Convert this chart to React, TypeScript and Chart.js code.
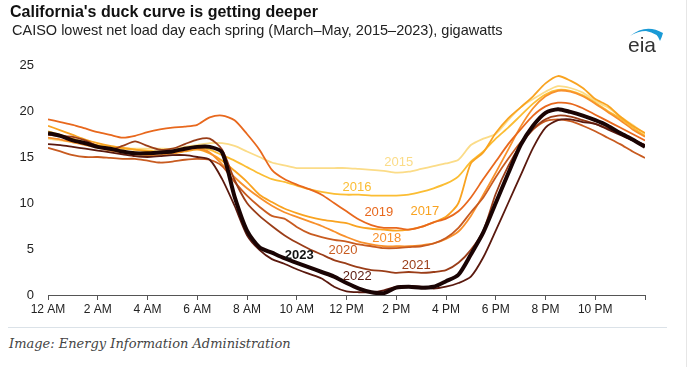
import React, { useEffect, useRef } from 'react';
import { Chart, registerables } from 'chart.js';
Chart.register(...registerables);

const X_TICK_LABELS = ['12 AM', '2 AM', '4 AM', '6 AM', '8 AM', '10 AM', '12 PM', '2 PM', '4 PM', '6 PM', '8 PM', '10 PM'];
const HOURS = [0, 0.5, 1, 1.5, 2, 2.5, 3, 3.5, 4, 4.5, 5, 5.5, 6, 6.5, 7, 7.5, 8, 8.5, 9, 9.5, 10, 10.5, 11, 11.5, 12, 12.5, 13, 13.5, 14, 14.5, 15, 15.5, 16, 16.5, 17, 17.5, 18, 18.5, 19, 19.5, 20, 20.5, 21, 21.5, 22, 22.5, 23, 23.5, 24];

const YEARS = ['2015', '2016', '2017', '2018', '2019', '2020', '2021', '2022', '2023'];
const COLORS = ['#fbdc88', '#fbbd33', '#f9a320', '#f8902c', '#e8681d', '#c85b20', '#9a3d18', '#5a190e', '#1a0404'];

const Y2015 = [17.0, 16.8, 16.6, 16.4, 16.2, 16.1, 16.0, 15.9, 15.9, 15.9, 15.9, 16.1, 16.3, 16.5, 16.5, 16.2, 15.6, 15.0, 14.4, 14.1, 13.8, 13.8, 13.8, 13.8, 13.8, 13.7, 13.6, 13.5, 13.3, 13.4, 13.7, 14.0, 14.3, 14.7, 16.3, 17.0, 17.5, 19.0, 20.4, 21.3, 22.1, 22.7, 22.5, 22.0, 21.1, 20.4, 19.4, 18.5, 17.5];
const Y2016 = [17.8, 17.4, 17.0, 16.6, 16.3, 16.1, 15.9, 15.8, 15.7, 15.6, 15.7, 15.9, 16.0, 15.8, 15.2, 14.6, 13.9, 13.2, 12.6, 12.3, 11.9, 11.5, 11.2, 11.0, 10.9, 10.9, 10.8, 10.8, 10.8, 10.9, 11.2, 11.6, 12.1, 12.9, 14.5, 15.6, 17.0, 18.2, 19.5, 20.8, 21.8, 22.3, 22.2, 21.7, 20.9, 20.0, 19.2, 18.2, 17.3];
const Y2017 = [18.4, 17.9, 17.4, 16.9, 16.5, 16.2, 16.0, 15.8, 15.6, 15.5, 15.4, 15.6, 15.8, 15.4, 14.6, 13.5, 12.3, 10.9, 10.1, 9.4, 8.9, 8.5, 8.2, 8.0, 7.8, 7.4, 7.2, 7.1, 7.0, 7.1, 7.4, 7.9, 8.5, 10.0, 14.3, 15.5, 17.6, 19.2, 20.4, 21.6, 23.0, 23.8, 23.3, 22.5, 21.3, 20.6, 19.4, 18.4, 17.6];
const Y2018 = [17.1, 16.9, 16.6, 16.3, 16.0, 15.7, 15.5, 15.3, 15.2, 15.2, 15.4, 15.7, 15.9, 15.5, 14.2, 12.8, 11.6, 10.6, 9.7, 9.0, 8.5, 8.0, 7.5, 6.9, 6.3, 5.8, 5.5, 5.3, 5.3, 5.3, 5.4, 5.6, 6.1, 6.9, 8.6, 10.9, 13.3, 15.8, 18.3, 20.3, 21.6, 22.2, 22.1, 21.6, 20.8, 19.9, 19.0, 18.0, 17.2];
const Y2019 = [19.1, 18.8, 18.5, 18.1, 17.7, 17.4, 17.1, 17.3, 17.7, 18.0, 18.2, 18.3, 18.5, 19.3, 19.5, 19.0, 17.5, 15.8, 13.6, 12.6, 12.0, 11.5, 10.9, 10.0, 9.1, 8.2, 7.6, 7.3, 7.3, 7.1, 7.4, 7.9, 8.3, 9.1, 10.6, 12.6, 14.5, 16.4, 18.0, 19.5, 20.5, 20.9, 20.8, 20.3, 19.6, 18.9, 18.2, 17.5, 16.8];
const Y2020 = [16.0, 15.6, 15.2, 15.0, 15.0, 14.9, 14.8, 14.8, 14.6, 14.4, 14.5, 14.7, 14.8, 14.7, 14.0, 12.3, 10.8, 9.6, 8.6, 8.3, 7.4, 6.7, 6.3, 6.0, 5.8, 5.5, 5.3, 5.1, 5.1, 5.2, 5.3, 5.6, 6.2, 7.3, 9.0, 10.6, 12.8, 14.8, 16.6, 18.0, 18.9, 19.1, 18.9, 18.4, 17.8, 17.1, 16.4, 15.6, 14.9];
const Y2021 = [17.4, 17.3, 17.2, 16.8, 16.2, 15.8, 16.2, 16.7, 16.2, 15.8, 15.9, 16.4, 16.9, 17.0, 15.8, 12.5, 10.0, 8.6, 7.5, 6.5, 5.7, 5.0, 4.4, 3.8, 3.4, 3.0, 2.7, 2.6, 2.4, 2.5, 2.4, 2.5, 2.7, 3.5, 4.9, 7.0, 11.0, 14.0, 16.3, 18.0, 19.1, 19.5, 19.4, 19.0, 18.6, 18.1, 17.5, 16.9, 16.3];
const Y2022 = [16.4, 16.3, 16.1, 15.9, 15.7, 15.5, 15.3, 15.1, 15.0, 15.1, 15.2, 15.2, 15.0, 14.7, 12.6, 9.7, 6.5, 4.9, 3.9, 3.4, 2.8, 2.3, 1.8, 0.9, 0.4, 0.3, 0.3, 0.5, 0.9, 1.0, 0.9, 0.7, 0.9, 1.3, 2.0, 4.1, 7.0, 10.0, 13.0, 16.0, 18.2, 19.0, 19.1, 18.8, 18.6, 18.0, 17.4, 16.8, 16.3];
const Y2023 = [17.6, 17.3, 16.8, 16.5, 16.1, 15.9, 15.6, 15.4, 15.4, 15.5, 15.6, 15.9, 16.1, 16.1, 15.5, 10.7, 7.0, 5.2, 4.6, 4.0, 3.5, 3.0, 2.5, 2.0, 1.3, 0.7, 0.3, 0.2, 0.8, 0.9, 0.8, 0.9, 1.5, 2.2, 4.4, 6.8, 10.0, 13.2, 16.3, 18.4, 19.8, 20.2, 19.9, 19.5, 19.0, 18.4, 17.6, 16.9, 16.1];
const SERIES = [Y2015, Y2016, Y2017, Y2018, Y2019, Y2020, Y2021, Y2022, Y2023];

// year label anchor positions (hour, gigawatts)
const LABEL_HOUR = [14.1, 12.42, 15.15, 13.62, 13.3, 11.86, 14.8, 12.43, 10.1];
const LABEL_GW = [14.45, 11.7, 9.05, 6.1, 8.95, 4.85, 3.2, 1.98, 4.3];

export default function App() {
  const ref = useRef<HTMLCanvasElement>(null);
  useEffect(() => {
    const labelPlugin = {
      id: 'yearLabels',
      afterDatasetsDraw(chart: any) {
        const { ctx, scales } = chart;
        ctx.save();
        ctx.textAlign = 'center';
        ctx.textBaseline = 'middle';
        YEARS.forEach((yr, i) => {
          const last = i === YEARS.length - 1;
          ctx.font = (last ? 'bold ' : '') + '13px "Liberation Sans", Arial, sans-serif';
          ctx.fillStyle = last ? '#111' : COLORS[i];
          ctx.fillText(yr, scales.x.getPixelForValue(LABEL_HOUR[i]), scales.y.getPixelForValue(LABEL_GW[i]));
        });
        ctx.restore();
      },
    };
    const chart = new Chart(ref.current!, {
      type: 'line',
      data: {
        datasets: SERIES.map((vals, i) => ({
          label: YEARS[i],
          data: HOURS.map((h, j) => ({ x: h, y: vals[j] })),
          borderColor: COLORS[i],
          backgroundColor: COLORS[i],
          borderWidth: i === SERIES.length - 1 ? 4 : 1.8,
          pointRadius: 0,
          tension: 0.25,
          order: SERIES.length - i,
        })),
      },
      options: {
        animation: false,
        responsive: false,
        devicePixelRatio: 1,
        layout: { padding: { top: 65, right: 42, left: 0, bottom: 0 } },
        plugins: { legend: { display: false }, tooltip: { enabled: false }, title: { display: false } },
        scales: {
          x: {
            type: 'linear',
            min: 0,
            max: 24,
            afterFit: (s: any) => { s.height = 35; },
            grid: { display: true, drawOnChartArea: false, drawTicks: true, tickLength: 5, color: '#555' },
            border: { display: true, color: '#555', width: 1 },
            ticks: {
              stepSize: 2,
              autoSkip: false,
              maxRotation: 0,
              padding: 2,
              color: '#222',
              font: { family: '"Liberation Sans", Arial, sans-serif', size: 12 },
              callback: (v: any) => X_TICK_LABELS[Math.round(Number(v) / 2)] ?? '',
            },
          },
          y: {
            min: 0,
            max: 25,
            afterFit: (s: any) => { s.width = 48; },
            grid: { display: false, drawTicks: false },
            border: { display: false },
            ticks: {
              stepSize: 5,
              padding: 14,
              color: '#222',
              font: { family: '"Liberation Sans", Arial, sans-serif', size: 13 },
            },
          },
        },
      },
      plugins: [labelPlugin],
    });
    return () => chart.destroy();
  }, []);

  return (
    <div style={{ position: 'absolute', left: 0, top: 0, width: 687, height: 367, background: '#fff', overflow: 'hidden', fontFamily: '"Liberation Sans", Arial, sans-serif' }}>
      <canvas ref={ref} width={687} height={330} style={{ position: 'absolute', left: 0, top: 0 }} />
      <div style={{ position: 'absolute', left: 10, top: 2, fontSize: 16, fontWeight: 'bold', color: '#111', lineHeight: '20px', whiteSpace: 'nowrap' }}>
        California's duck curve is getting deeper
      </div>
      <div style={{ position: 'absolute', left: 12, top: 21, fontSize: 14.5, color: '#222', lineHeight: '18px', whiteSpace: 'nowrap' }}>
        CAISO lowest net load day each spring (March–May, 2015–2023), gigawatts
      </div>
      <svg width={50} height={36} style={{ position: 'absolute', left: 620, top: 24 }}>
        <path d="M10 12 Q26 -1 43 9 Q42 13 40 17 Q38 9 26 7 Q18 7 10 12 Z" fill="#1a9ad6" />
      </svg>
      <div style={{ position: 'absolute', left: 628, top: 33, fontSize: 21, color: '#333', lineHeight: '24px' }}>eia</div>
      <div style={{ position: 'absolute', left: 8, top: 327, width: 659, height: 1, background: '#dbe2e8' }} />
      <div style={{ position: 'absolute', right: 0, top: 0, width: 1, height: 367, background: '#e6e6e6' }} />
      <div style={{ position: 'absolute', left: 9, top: 335, fontSize: 13, fontStyle: 'italic', color: '#444', fontFamily: '"DejaVu Serif", serif', lineHeight: '18px', whiteSpace: 'nowrap' }}>
        Image: Energy Information Administration
      </div>
    </div>
  );
}
